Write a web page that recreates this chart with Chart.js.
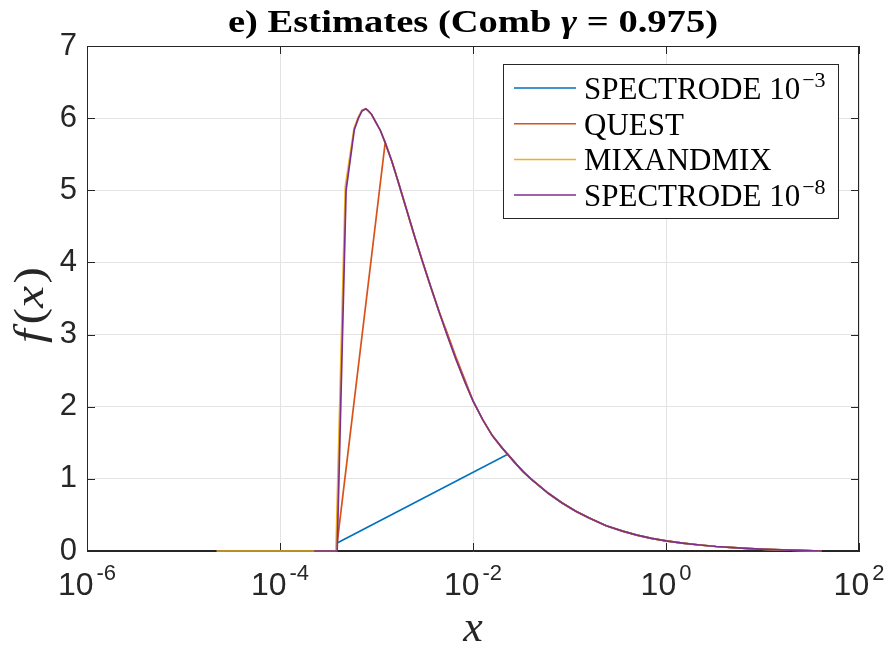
<!DOCTYPE html>
<html>
<head>
<meta charset="utf-8">
<script src="https://cdn.jsdelivr.net/npm/chart.js@4/dist/chart.umd.min.js"></script>
<style>
html,body{margin:0;padding:0;background:#fff;}
canvas{display:block;}
</style>
</head>
<body>
<canvas id="c" width="888" height="659"></canvas>
<script>
// ---- data ----
const seriesLabels = ['SPECTRODE 10^{−3}', 'QUEST', 'MIXANDMIX', 'SPECTRODE 10^{−8}'];
const seriesColors = ['#0072BD', '#D95319', '#EDB120', '#7E2F8E'];
const xTickValues = [1e-6, 1e-4, 1e-2, 1, 1e2];
const yTickValues = [0, 1, 2, 3, 4, 5, 6, 7];

// common right-hand part of the density (shared by all estimates)
const curveX = [8.22e-4, 8.91e-4, 9.77e-4, 1.096e-3, 1.23e-3, 1.445e-3, 1.66e-3, 2.0e-3, 2.51e-3, 3.02e-3, 3.63e-3, 4.47e-3,
  5.37e-3, 6.61e-3, 8.32e-3, 1.0e-2, 1.26e-2, 1.585e-2, 2.0e-2, 2.29e-2, 2.82e-2, 3.31e-2,
  3.98e-2, 5.01e-2, 6.03e-2, 8.32e-2, 0.115, 0.158, 0.24, 0.355, 0.50, 0.708,
  1.0, 1.48, 2.24, 3.31, 5.01, 7.41, 11.0, 15.8, 24.3, 40.7];
const curveF = [6.10, 6.05, 5.95, 5.83, 5.66, 5.40, 5.14, 4.78, 4.34, 4.00, 3.67, 3.31,
  3.00, 2.67, 2.33, 2.08, 1.82, 1.60, 1.43, 1.34, 1.20, 1.10,
  1.00, 0.89, 0.80, 0.67, 0.555, 0.46, 0.35, 0.275, 0.22, 0.175,
  0.14, 0.11, 0.083, 0.062, 0.046, 0.033, 0.023, 0.015, 0.008, 0.0];

// left-hand parts that differ between the estimates
const spectrode3X = [3.91e-4, 2.29e-2];
const spectrode3F = [0.11, 1.34];
const questX = [3.91e-4, 1.23e-3];
const questF = [0.11, 5.66];
const mixX = [2.2e-5, 3.8e-4, 4.75e-4, 5.85e-4, 6.45e-4, 7.05e-4, 7.76e-4];
const mixF = [0, 0, 5.05, 5.86, 6.01, 6.11, 6.13];
const spectrode8X = [2.26e-4, 3.91e-4, 4.84e-4, 5.89e-4, 6.5e-4, 7.08e-4, 7.76e-4];
const spectrode8F = [0, 0, 5.00, 5.84, 6.00, 6.10, 6.13];
// small visible offset of QUEST on the falling flank
const questOffsetX = [5.37e-3, 6.61e-3, 8.32e-3];
const questOffsetF = [3.03, 2.70, 2.36];

function build(headX, headF, offX, offF) {
  const pts = headX.map((x, i) => ({x: x, y: headF[i]}));
  const last = headX[headX.length - 1];
  curveX.forEach((x, i) => {
    if (x > last) {
      let y = curveF[i];
      if (offX) { const k = offX.indexOf(x); if (k >= 0) y = offF[k]; }
      pts.push({x: x, y: y});
    }
  });
  return pts;
}

const seriesData = [
  build(spectrode3X, spectrode3F),
  build(questX, questF, questOffsetX, questOffsetF),
  build(mixX, mixF),
  build(spectrode8X, spectrode8F)
];

const AX = '#262626';
const GRID = '#e3e3e3';

function drawRich(ctx, parts, x, y, align, targetW) {
  let total = 0;
  parts.forEach(p => { ctx.font = p.font; p.w = ctx.measureText(p.t).width; total += p.w + (p.gap || 0); });
  const sx = targetW ? targetW / total : 1;
  const W = total * sx;
  const x0 = align === 'center' ? x - W / 2 : (align === 'right' ? x - W : x);
  ctx.save();
  ctx.translate(x0, y);
  ctx.scale(sx, 1);
  let cx = 0;
  parts.forEach(p => { cx += (p.gap || 0); ctx.font = p.font; ctx.fillText(p.t, cx, (p.dy || 0)); cx += p.w; });
  ctx.restore();
  return W;
}

function labelParts(s, size) {
  const m = s.match(/^(.*)\^\{(.*)\}$/);
  const base = size + "px 'Liberation Serif'";
  if (!m) return [{t: s, font: base}];
  return [{t: m[1], font: base}, {t: m[2], font: Math.round(size * 0.7) + "px 'Liberation Serif'", dy: -size * 0.4, gap: 2}];
}

const decor = {
  id: 'decor',
  beforeDatasetsDraw(chart) {
    const ctx = chart.ctx;
    const a = chart.chartArea;
    const xs = chart.scales.x, ys = chart.scales.y;
    ctx.save();
    ctx.strokeStyle = AX; ctx.lineWidth = 1;
    ctx.strokeRect(a.left + 0.5, a.top + 0.5, a.right - a.left - 1, a.bottom - a.top - 1);
    ctx.beginPath();
    const tl = 8;
    xTickValues.forEach(v => {
      const px = Math.round(xs.getPixelForValue(v)) + 0.5;
      ctx.moveTo(px, a.bottom); ctx.lineTo(px, a.bottom - tl);
      ctx.moveTo(px, a.top); ctx.lineTo(px, a.top + tl);
    });
    yTickValues.forEach(v => {
      const py = Math.round(ys.getPixelForValue(v)) + 0.5;
      ctx.moveTo(a.left, py); ctx.lineTo(a.left + tl, py);
      ctx.moveTo(a.right, py); ctx.lineTo(a.right - tl, py);
    });
    ctx.stroke();
    ctx.restore();
  },
  afterDraw(chart) {
    const ctx = chart.ctx;
    const a = chart.chartArea;
    const xs = chart.scales.x;
    ctx.save();
    ctx.textBaseline = 'alphabetic';
    // x tick labels 10^n
    ctx.fillStyle = AX;
    xTickValues.forEach(v => {
      const e = Math.round(Math.log10(v));
      const px = xs.getPixelForValue(v);
      drawRich(ctx, [
        {t: '10', font: "32px 'Liberation Sans'"},
        {t: String(e), font: "22px 'Liberation Sans'", dy: -15, gap: 3}
      ], px, a.bottom + 44, 'center');
    });
    // axis titles
    drawRich(ctx, [{t: 'x', font: "italic 44px 'Liberation Serif'"}], (a.left + a.right) / 2, 641, 'center');
    ctx.save();
    ctx.translate(43, 305);
    ctx.rotate(-Math.PI / 2);
    drawRich(ctx, [
      {t: 'f', font: "italic 42px 'Liberation Serif'"},
      {t: '(', font: "42px 'Liberation Serif'", gap: 4},
      {t: 'x', font: "italic 42px 'Liberation Serif'"},
      {t: ')', font: "42px 'Liberation Serif'", gap: 2}
    ], 0, 0, 'center', 76);
    ctx.restore();
    // title
    ctx.fillStyle = '#000';
    drawRich(ctx, [
      {t: 'e) Estimates (Comb ', font: "bold 32px 'Liberation Serif'"},
      {t: 'γ', font: "bold italic 32px 'Liberation Serif'"},
      {t: ' = ', font: "bold 32px 'Liberation Serif'"},
      {t: '0.975)', font: "bold 32px 'Liberation Serif'"}
    ], (a.left + a.right) / 2, 32, 'center', 490);
    // legend
    const lx = 503, ly = 64, lw = 335, lh = 154;
    ctx.fillStyle = '#fff';
    ctx.fillRect(lx, ly, lw, lh);
    ctx.strokeStyle = AX; ctx.lineWidth = 1;
    ctx.strokeRect(lx + 0.5, ly + 0.5, lw, lh);
    chart.data.datasets.forEach((ds, i) => {
      const ry = ly + 24 + i * 35.7;
      ctx.strokeStyle = ds.borderColor; ctx.lineWidth = 1.5;
      ctx.beginPath(); ctx.moveTo(lx + 11, ry); ctx.lineTo(lx + 73, ry); ctx.stroke();
      ctx.fillStyle = '#000';
      drawRich(ctx, labelParts(ds.label, 31), lx + 81, ry + 11, 'left');
    });
    ctx.restore();
  }
};

new Chart(document.getElementById('c'), {
  type: 'line',
  data: {
    datasets: seriesLabels.map((lab, i) => ({
      label: lab,
      data: seriesData[i],
      borderColor: seriesColors[i],
      backgroundColor: seriesColors[i],
      borderWidth: 1.7,
      pointRadius: 0,
      tension: 0,
      fill: false,
      clip: 6,
      order: seriesLabels.length - i
    }))
  },
  options: {
    responsive: false,
    devicePixelRatio: 1,
    animation: false,
    layout: {padding: {top: 46, right: 29, left: 0, bottom: 0}},
    plugins: {legend: {display: false}, title: {display: false}, tooltip: {enabled: false}},
    scales: {
      x: {
        type: 'logarithmic',
        min: 1e-6, max: 1e2,
        afterBuildTicks: s => { s.ticks = xTickValues.map(v => ({value: v})); },
        afterFit: s => { s.height = 108; },
        ticks: {display: false},
        grid: {color: GRID, drawTicks: false, lineWidth: 1},
        border: {display: true, color: AX, width: 1}
      },
      y: {
        type: 'linear',
        min: 0, max: 7,
        afterBuildTicks: s => { s.ticks = yTickValues.map(v => ({value: v})); },
        afterFit: s => { s.width = 87; },
        ticks: {font: {family: 'Liberation Sans', size: 31}, color: AX, padding: 10},
        grid: {color: GRID, drawTicks: false, lineWidth: 1},
        border: {display: true, color: AX, width: 1}
      }
    }
  },
  plugins: [decor]
});
</script>
</body>
</html>
